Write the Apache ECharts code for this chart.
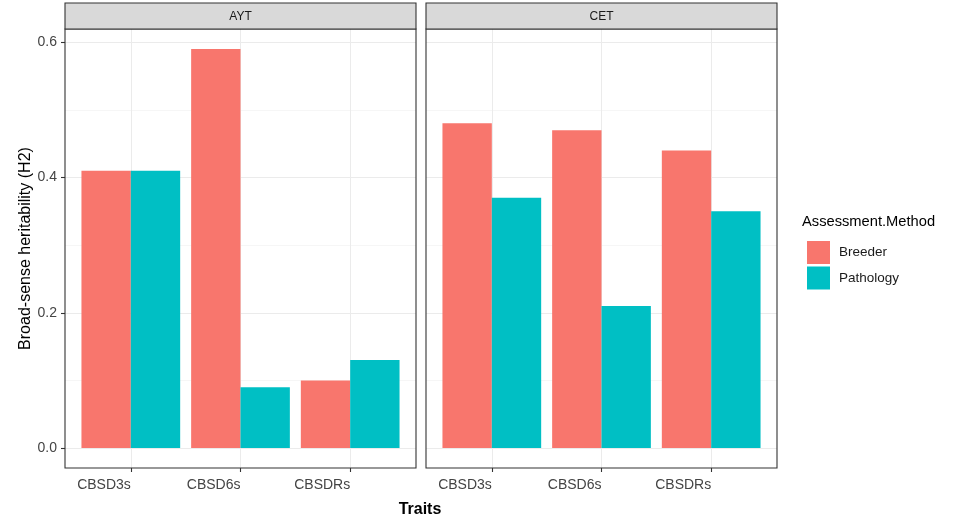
<!DOCTYPE html>
<html>
<head>
<meta charset="utf-8">
<script src="https://cdn.jsdelivr.net/npm/echarts@6/dist/echarts.min.js"></script>
<style>
html,body{margin:0;padding:0;background:#fff;}
#chart{width:957px;height:522px;}
</style>
</head>
<body>
<div id="chart"></div>
<script>
// ---- data ----
const facets = ['AYT', 'CET'];
const categories = ['CBSD3s', 'CBSD6s', 'CBSDRs'];
const methods = ['Breeder', 'Pathology'];
const aytBreeder = [0.41, 0.59, 0.10];
const aytPathology = [0.41, 0.09, 0.13];
const cetBreeder = [0.48, 0.47, 0.44];
const cetPathology = [0.37, 0.21, 0.35];
const yTicks = [0, 0.2, 0.4, 0.6];
const yMinorTicks = [0.1, 0.3, 0.5];
const colors = ['#F8766D', '#00BFC4'];

const values = { AYT: [aytBreeder, aytPathology], CET: [cetBreeder, cetPathology] };

// ---- layout ----
const FONT = '"Liberation Sans", Arial, sans-serif';
const panelTop = 29, panelH = 439, panelW = 351;
const panelLefts = [65, 426];
const stripTop = 3;
const yMin = -0.0295, yMax = 0.6195;
const xMin = 0.4, xMax = categories.length + 0.6;
const catPos = categories.map((c, i) => i + 1);

const chart = echarts.init(document.getElementById('chart'), null, { renderer: 'canvas' });

const grids = [], xAxes = [], yAxes = [], series = [], graphics = [];

facets.forEach((f, fi) => {
  grids.push({
    left: panelLefts[fi], top: panelTop, width: panelW, height: panelH,
    show: true, backgroundColor: '#fff', borderWidth: 0,
    containLabel: false
  });
  xAxes.push({
    type: 'value', gridIndex: fi, min: xMin, max: xMax, position: 'bottom',
    axisLine: { show: false, onZero: false },
    axisTick: { show: true, inside: false, customValues: catPos, length: 4, lineStyle: { color: '#333', width: 1.1 } },
    axisLabel: {
      show: true, customValues: catPos, align: 'right', margin: 10,
      formatter: v => categories[Math.round(v) - 1],
      fontFamily: FONT, fontSize: 14, color: '#444444'
    },
    splitLine: { show: true, lineStyle: { color: '#ebebeb', width: 1 } }
  });
  // main y axis
  yAxes.push({
    type: 'value', gridIndex: fi, min: yMin, max: yMax, position: 'left',
    axisLine: { show: false, onZero: false },
    axisTick: { show: fi === 0, inside: false, customValues: yTicks, length: 4, lineStyle: { color: '#333', width: 1.1 } },
    axisLabel: {
      show: fi === 0, customValues: yTicks, margin: 8,
      formatter: v => v.toFixed(1), fontFamily: FONT, fontSize: 14, color: '#444444'
    },
    splitLine: { show: true, lineStyle: { color: '#ebebeb', width: 1 } },
    name: fi === 0 ? 'Broad-sense heritability (H2)' : '',
    nameLocation: 'middle', nameGap: 27, nameRotate: 90,
    nameTextStyle: { fontFamily: FONT, fontSize: 16, color: '#000' }
  });
  // minor grid y axis
  yAxes.push({
    type: 'value', gridIndex: fi, min: yMin, max: yMax, position: 'left',
    axisLine: { show: false, onZero: false },
    axisTick: { show: false, customValues: yMinorTicks },
    axisLabel: { show: false, customValues: yMinorTicks },
    splitLine: { show: true, lineStyle: { color: '#f4f4f4', width: 0.8 } }
  });
  methods.forEach((m, mi) => {
    series.push({
      type: 'bar', name: m, xAxisIndex: fi, yAxisIndex: fi * 2,
      data: catPos.map((p, i) => [p, values[f][mi][i]]),
      itemStyle: { color: colors[mi] },
      barGap: '0%', barCategoryGap: '10%',
      emphasis: { disabled: true }, silent: true
    });
  });
  // panel border on top
  graphics.push({
    type: 'rect', z: 20,
    shape: { x: panelLefts[fi], y: panelTop, width: panelW, height: panelH },
    style: { fill: null, stroke: '#333333', lineWidth: 1.1 }
  });
  // facet strip
  graphics.push({
    type: 'rect', z: 20,
    shape: { x: panelLefts[fi], y: stripTop, width: panelW, height: panelTop - stripTop },
    style: { fill: '#d9d9d9', stroke: '#333333', lineWidth: 1.1 }
  });
  graphics.push({
    type: 'text', z: 21,
    x: panelLefts[fi] + panelW / 2, y: (stripTop + panelTop) / 2 + 0.5,
    style: { text: f, fill: '#1a1a1a', font: '12px ' + FONT, textAlign: 'center', textVerticalAlign: 'middle' }
  });
});

// x axis title
graphics.push({
  type: 'text', x: 420, y: 510,
  style: { text: 'Traits', fill: '#000', font: 'bold 16px ' + FONT, textAlign: 'center', textVerticalAlign: 'middle' }
});
// legend title
graphics.push({
  type: 'text', x: 802, y: 222,
  style: { text: 'Assessment.Method', fill: '#000', font: '14.7px ' + FONT, textAlign: 'left', textVerticalAlign: 'middle' }
});

chart.setOption({
  animation: false,
  textStyle: { fontFamily: FONT },
  grid: grids,
  xAxis: xAxes,
  yAxis: yAxes,
  series: series,
  legend: {
    data: methods, orient: 'vertical', left: 802, top: 236,
    icon: 'rect', itemWidth: 23, itemHeight: 23, itemGap: 2.5,
    textStyle: { fontFamily: FONT, fontSize: 13.5, color: '#1a1a1a', padding: [0, 0, 0, 4] },
    selectedMode: false
  },
  graphic: graphics
});
</script>
</body>
</html>
